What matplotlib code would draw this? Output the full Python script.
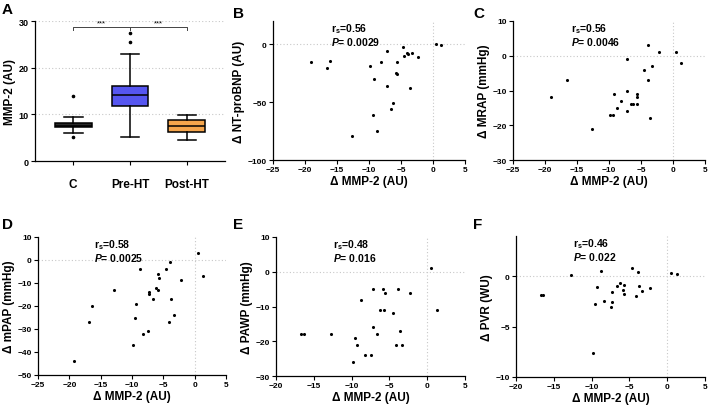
import numpy as np
import matplotlib
matplotlib.use("Agg")
import matplotlib.pyplot as plt

plt.rcParams['font.family'] = ['Liberation Sans', 'DejaVu Sans']
plt.rcParams['mathtext.fontset'] = 'custom'
plt.rcParams['mathtext.rm'] = 'Liberation Sans:bold'
plt.rcParams['mathtext.bf'] = 'Liberation Sans:bold'
plt.rcParams['mathtext.it'] = 'Liberation Sans:bold:italic'

# ------------------------------------------------------
# Data
# ------------------------------------------------------
groups = ["C", "Pre-HT", "Post-HT"]
box_colors = ["#2a2a2a", "#5656f0", "#f5a54c"]
# (whisker low, q1, median, q3, whisker high)
box_stats = [
    (6.0, 7.2, 7.6, 8.1, 9.4),
    (5.1, 11.7, 14.1, 16.0, 22.9),
    (4.6, 6.2, 7.4, 8.7, 9.9),
]
box_fliers = [[14.0, 5.1], [25.5, 27.4], []]

b_x = [-19.1, -16.5, -16.1, -12.6, -9.8, -9.45, -9.25, -8.7, -8.2, -7.26, -7.26, -6.6, -6.2,
       -5.8, -5.7, -5.7, -4.76, -4.55, -4.03, -3.87, -3.6, -3.3, -2.3, 0.4, 1.2]
b_y = [-15.3, -21, -14.7, -79, -18.5, -61, -29.8, -75, -15, -6, -36, -56, -51,
       -25, -26, -15, -2.6, -10.4, -7.8, -8.7, -38, -8, -11, 0, -0.6]

c_x = [-19.1, -16.5, -12.6, -9.8, -9.35, -9.25, -8.7, -8.05, -7.26, -7.16, -7.16, -6.6, -6.2,
       -5.7, -5.7, -5.7, -4.5, -3.87, -3.97, -3.6, -3.25, -2.2, 0.5, 1.24]
c_y = [-12, -7, -21, -17, -17, -11, -15, -13, -16, -1, -10, -14, -14,
       -14, -12, -11, -4, 3, -7, -18, -3, 1, 1, -2]

d_x = [-19.3, -16.4, -16.8, -12.8, -9.9, -9.5, -9.4, -8.8, -8.3, -7.4, -7.3, -7.3, -6.7,
       -6.2, -5.9, -5.7, -5.8, -4.6, -3.9, -4.1, -3.7, -3.3, -2.2, 0.5, 1.3]
d_y = [-44.1, -20, -26.9, -13.1, -37, -25.1, -19, -3.9, -32, -31, -14, -14.8, -17,
       -12.1, -5.9, -7.9, -13, -3.9, -1, -27, -17, -24, -8.9, 3.2, -6.9]

e_x = [-16.7, -16.3, -12.7, -9.8, -9.5, -9.3, -8.8, -8.2, -7.4, -7.2, -7.2, -6.6, -6.2,
       -5.7, -5.8, -5.6, -4.5, -3.9, -4.1, -3.6, -3.3, -2.3, 0.48, 1.3]
e_y = [-18, -18, -18, -26, -19, -21, -8, -24, -24, -5, -16, -18, -11,
       -11, -5, -6, -12, -5, -21, -17, -21, -6, 1, -11]

f_x = [-16.75, -16.4, -12.7, -9.8, -9.5, -9.3, -8.8, -8.3, -7.4, -7.3, -7.3, -6.7, -6.2,
       -5.8, -5.75, -5.7, -4.6, -3.9, -4.1, -3.7, -3.3, -2.3, 0.48, 1.27]
f_y = [-1.9, -1.9, 0.13, -7.6, -2.8, -1.05, 0.52, -2.45, -3.0, -1.57, -2.6, -0.95, -0.62,
       -1.37, -0.88, -1.8, 0.78, 0.42, -1.93, -0.92, -1.47, -1.14, 0.33, 0.2]

scatter_panels = [
    ("B", b_x, b_y, "\u0394 NT-proBNP (AU)", (-25, 5), (-100, 20), [-100, -50, 0], "0.56", "0.0029"),
    ("C", c_x, c_y, "\u0394 MRAP (mmHg)", (-25, 5), (-30, 10), [-30, -20, -10, 0, 10], "0.56", "0.0046"),
    ("D", d_x, d_y, "\u0394 mPAP (mmHg)", (-25, 5), (-50, 10), [-50, -40, -30, -20, -10, 0, 10], "0.58", "0.0025"),
    ("E", e_x, e_y, "\u0394 PAWP (mmHg)", (-20, 5), (-30, 10), [-30, -20, -10, 0, 10], "0.48", "0.016"),
    ("F", f_x, f_y, "\u0394 PVR (WU)", (-20, 5), (-10, 4), [-10, -5, 0], "0.46", "0.022"),
]

# axes boxes in pixels: left, top, right, bottom
W, H = 709, 406
rects = {
    "A": (35, 22, 225, 162),
    "B": (273, 22, 465, 161),
    "C": (513, 22, 705, 161),
    "D": (38, 238, 226, 376),
    "E": (276, 238, 465, 377),
    "F": (516, 237, 705, 378),
}
letter_pos = {"A": (2, 14), "B": (233, 18), "C": (473, 18),
              "D": (2, 229), "E": (233, 229), "F": (473, 229)}

GRID = "#c8c8c8"


def make_axes(fig, key):
    l, t, r, b = rects[key]
    ax = fig.add_axes([l / W, 1 - b / H, (r - l) / W, (b - t) / H])
    for s in ("top", "right"):
        ax.spines[s].set_visible(False)
    for s in ("left", "bottom"):
        ax.spines[s].set_linewidth(0.9)
    ax.tick_params(direction="out", length=3, width=0.8, labelsize=6, pad=1.5)
    for lab in ax.get_xticklabels() + ax.get_yticklabels():
        lab.set_fontweight("bold")
    lx, ly = letter_pos[key]
    fig.text(lx / W, 1 - ly / H, key, fontsize=11, fontweight="bold")
    return ax


def bold_ticks(ax):
    for lab in ax.get_xticklabels() + ax.get_yticklabels():
        lab.set_fontweight("bold")


fig = plt.figure(figsize=(W / 100, H / 100), dpi=100)

# ------------------------------------------------------
# Panel A: boxplot
# ------------------------------------------------------
ax = make_axes(fig, "A")
stats = []
for name, (lo, q1, med, q3, hi), fl in zip(groups, box_stats, box_fliers):
    stats.append(dict(label=name, whislo=lo, q1=q1, med=med, q3=q3, whishi=hi, fliers=fl))
bp = ax.bxp(stats, positions=[1, 2, 3], widths=0.65, patch_artist=True,
            boxprops=dict(linewidth=1.1, edgecolor="black"),
            medianprops=dict(color="black", linewidth=1.1),
            whiskerprops=dict(linewidth=1.1), capprops=dict(linewidth=1.1),
            flierprops=dict(marker="o", markersize=1.6, markerfacecolor="black",
                            markeredgecolor="black"),
            capwidths=0.33)
for patch, col in zip(bp["boxes"], box_colors):
    patch.set_facecolor(col)
ax.set_xlim(0.33, 3.67)
ax.set_ylim(0, 30)
ax.set_yticks([0, 10, 20, 30])
for yv in [10, 20, 30]:
    ax.axhline(yv, color=GRID, linestyle=(0, (1, 2)), linewidth=0.8, zorder=0)
ax.set_xticks([1, 2, 3])
ax.set_xticklabels(groups, fontsize=8.5, fontweight="bold")
ax.tick_params(axis="x", pad=9)
ax.tick_params(axis="y", labelsize=6.5)
for lab in ax.get_yticklabels():
    lab.set_fontweight("bold")
ax.set_ylabel("MMP-2 (AU)", fontsize=8.5, fontweight="bold", labelpad=2)

# significance brackets
for x0, x1 in [(1, 2), (2, 3)]:
    ax.plot([x0, x0, x1, x1], [28.0, 28.7, 28.7, 28.0], color="#444444", linewidth=0.7,
            clip_on=False)
    ax.text((x0 + x1) / 2, 28.9, "***", ha="center", va="bottom", fontsize=5.5)

# ------------------------------------------------------
# Panels B-F: scatter
# ------------------------------------------------------
for key, xs, ys, ylab, xl, yl, yt, rs, p in scatter_panels:
    ax = make_axes(fig, key)
    ax.axhline(0, color=GRID, linestyle=(0, (1, 2)), linewidth=0.8, zorder=0)
    ax.axvline(0, color=GRID, linestyle=(0, (1, 2)), linewidth=0.8, zorder=0)
    ax.scatter(xs, ys, s=5, color="black", zorder=3, linewidths=0)
    ax.set_xlim(*xl)
    ax.set_ylim(*yl)
    ax.set_xticks(np.arange(xl[0], xl[1] + 1, 5))
    ax.set_yticks(yt)
    bold_ticks(ax)
    ax.set_xlabel("\u0394 MMP-2 (AU)", fontsize=8.5, fontweight="bold", labelpad=1)
    ax.set_ylabel(ylab, fontsize=8.5, fontweight="bold", labelpad=2)
    ax.text(0.30, 1.0, r"r$_\mathbf{s}$=" + rs, transform=ax.transAxes,
            fontsize=7.5, fontweight="bold", va="top", ha="left")
    ax.text(0.30, 0.90, r"$\mathit{P}$= " + p, transform=ax.transAxes,
            fontsize=7.5, fontweight="bold", va="top", ha="left")

fig.savefig("out.png", dpi=100)
